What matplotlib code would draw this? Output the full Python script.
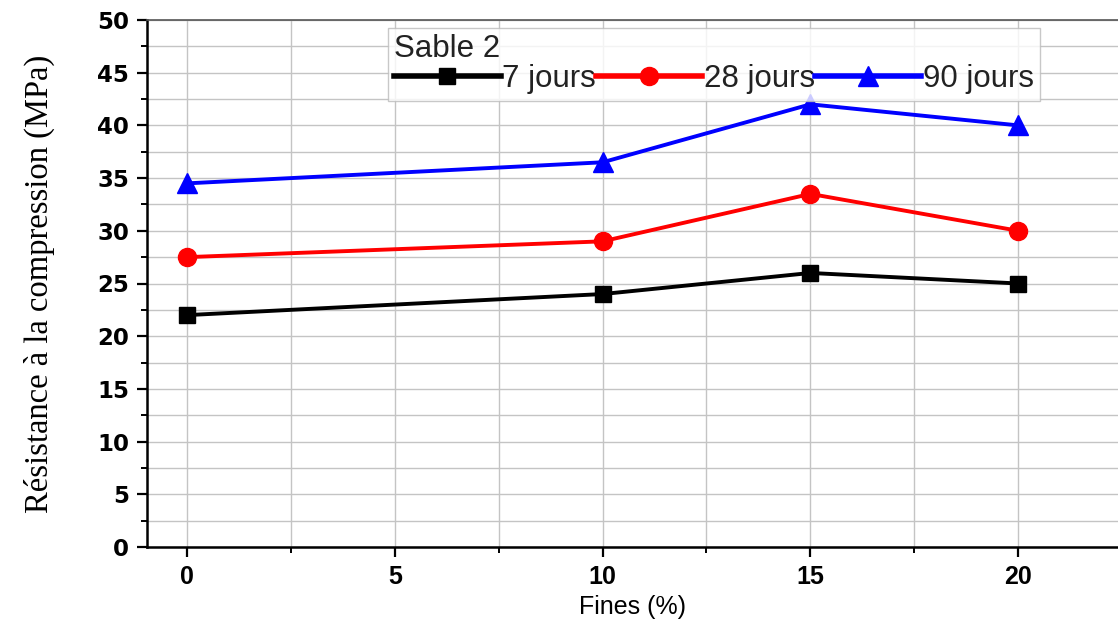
import matplotlib
matplotlib.use("Agg")
import matplotlib.pyplot as plt
from matplotlib.ticker import MultipleLocator

# ── Data ─────────────────────────────────────────────────────────────────────
fines = [0, 10, 15, 20]
j7 = [22.0, 24.0, 26.0, 25.0]
j28 = [27.5, 29.0, 33.5, 30.0]
j90 = [34.5, 36.5, 42.0, 40.0]
labels = ["7 jours", "28 jours", "90 jours"]

# ── Style ────────────────────────────────────────────────────────────────────
C_GRID = "#c4c4c4"
SANS = "Liberation Sans"
SERIF = "Liberation Serif"

fig = plt.figure(figsize=(11.18, 6.26), dpi=100, facecolor="white")
ax = fig.add_axes([147 / 1118, 1 - 547 / 626, 1 - 147 / 1118, (547 - 20) / 626])

ax.plot(fines, j7, color="black", lw=2.8, marker="s", ms=12, label=labels[0])
ax.plot(fines, j28, color="#ff0000", lw=2.8, marker="o", ms=13, label=labels[1])
ax.plot(fines, j90, color="#0000ff", lw=2.8, marker="^", ms=14, label=labels[2])

ax.set_xlim(-0.96, 22.4)
ax.set_ylim(0, 50)
ax.xaxis.set_major_locator(MultipleLocator(5))
ax.xaxis.set_minor_locator(MultipleLocator(2.5))
ax.yaxis.set_major_locator(MultipleLocator(5))
ax.yaxis.set_minor_locator(MultipleLocator(2.5))
ax.grid(True, which="both", color=C_GRID, lw=1.0)
ax.set_axisbelow(True)

ax.tick_params(which="major", direction="out", length=7, width=1.6, pad=6)
ax.tick_params(which="minor", direction="out", length=4, width=1.4)
ax.tick_params(top=False, right=False)
for sp in ("left", "bottom"):
    ax.spines[sp].set_linewidth(1.8)
ax.spines["top"].set_linewidth(1.2)
ax.spines["top"].set_color("#555555")
ax.spines["right"].set_visible(False)

for t in ax.get_yticklabels():
    t.set_fontfamily("DejaVu Sans")
    t.set_fontweight("bold")
    t.set_fontsize(16.5)
for t in ax.get_xticklabels():
    t.set_fontfamily(SANS)
    t.set_fontweight("bold")
    t.set_fontsize(18)

ax.set_xlabel("Fines (%)", fontfamily=SANS, fontsize=18, labelpad=4)
ax.set_ylabel("Résistance à la compression (MPa)", fontfamily=SERIF,
              fontsize=23.5, labelpad=30)

leg = ax.legend(title="Sable 2", ncol=3, loc="upper left",
                bbox_to_anchor=((388 - 147) / (1118 - 147), 1 - 8 / 527),
                prop={"family": SANS, "size": 22.5},
                title_fontproperties={"family": SANS, "size": 22.5},
                handlelength=3.4, handletextpad=0.05, columnspacing=0.0,
                frameon=True, fancybox=False, edgecolor="#bbbbbb",
                borderpad=0.2, borderaxespad=0, labelspacing=0.0)
leg._legend_box.align = "left"
leg.get_frame().set_linewidth(1.0)
for line in leg.get_lines():
    line.set_linewidth(4)
for t in leg.get_texts():
    t.set_color("#222222")
leg.get_title().set_color("#222222")

fig.savefig("out.png", dpi=100, facecolor="white")
